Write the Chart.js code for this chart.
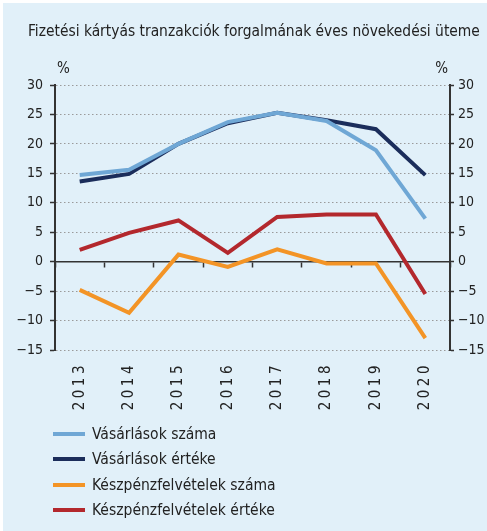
<!DOCTYPE html>
<html>
<head>
<meta charset="utf-8">
<script src="https://cdn.jsdelivr.net/npm/chart.js@4/dist/chart.umd.min.js"></script>
<style>
  html, body { margin: 0; padding: 0; background: #ffffff; }
  #wrap { position: absolute; left: 3px; top: 3px; width: 484px; height: 528px; background: #e1f0f9; }
  #cv { position: absolute; left: 0; top: 0; }
  #title { position: absolute; left: 25px; top: 19px; line-height: 18px; white-space: nowrap; font-family: "Liberation Sans Narrow", "DejaVu Sans Condensed", sans-serif; font-size: 15.4px; color: #222; }
  #legend { position: absolute; left: 50px; top: 418px; font-family: "Liberation Sans Narrow", "DejaVu Sans Condensed", sans-serif; font-size: 15.5px; color: #222; }
  .item { height: 25.5px; display: flex; align-items: center; }
  .sw { width: 32px; height: 4px; margin-right: 7px; }
</style>
</head>
<body>
<div id="wrap">
  <canvas id="cv" width="484" height="528"></canvas>
  <div id="title"></div>
  <div id="legend"></div>
</div>
<script>
const years = ['2013', '2014', '2015', '2016', '2017', '2018', '2019', '2020'];
const vasarlasokSzama = [14.7, 15.6, 20.0, 23.7, 25.3, 23.9, 18.9, 7.3];
const vasarlasokErteke = [13.6, 14.9, 20.0, 23.5, 25.3, 24.0, 22.5, 14.7];
const keszpenzSzama = [-4.8, -8.7, 1.2, -0.9, 2.1, -0.3, -0.3, -13.0];
const keszpenzErteke = [2.0, 4.9, 7.0, 1.5, 7.6, 8.0, 8.0, -5.5];
const seriesNames = ['Vásárlások száma', 'Vásárlások értéke', 'Készpénzfelvételek száma', 'Készpénzfelvételek értéke'];
const seriesColors = ['#6fa7d5', '#1b2d5b', '#f39426', '#b3282d'];
const yMin = -15, yMax = 30, yStep = 5;
const titleText = 'Fizetési kártyás tranzakciók forgalmának éves növekedési üteme';
const unitText = '%';

const FONT = '"Liberation Sans Narrow", "DejaVu Sans Condensed", sans-serif';
const NUMFONT = '"DejaVu Sans Condensed", "Liberation Sans Narrow", sans-serif';
const TXT = '#222222';

document.getElementById('title').textContent = titleText;

const dataSets = [vasarlasokSzama, vasarlasokErteke, keszpenzSzama, keszpenzErteke].map((d, i) => ({
  label: seriesNames[i], data: d, borderColor: seriesColors[i], backgroundColor: seriesColors[i],
  borderWidth: 4, pointRadius: 0, tension: 0, fill: false
}));

const fmt = v => String(v).replace('-', '\u2212');

const unitPlugin = {
  id: 'unitLabels',
  beforeDraw(chart) {
    const s = chart.scales.x;
    if (s && !s._spaced) {
      const orig = s.drawLabels;
      s.drawLabels = function (area) {
        const c = this.ctx; c.save(); c.letterSpacing = '3.5px'; orig.call(this, area); c.restore();
      };
      s._spaced = true;
    }
  },
  afterDraw(chart) {
    const ctx = chart.ctx;
    const a = chart.chartArea;
    ctx.save();
    ctx.font = '15px ' + FONT;
    ctx.fillStyle = TXT;
    ctx.textBaseline = 'bottom';
    ctx.textAlign = 'left';
    ctx.fillText(unitText, a.left + 2, a.top - 8);
    ctx.textAlign = 'right';
    ctx.fillText(unitText, a.right - 2, a.top - 8);
    ctx.restore();
  }
};

new Chart(document.getElementById('cv'), {
  type: 'line',
  data: { labels: years, datasets: dataSets },
  plugins: [unitPlugin],
  options: {
    responsive: false,
    animation: false,
    layout: { padding: { left: 0, right: 0, top: 82, bottom: 119 } },
    plugins: {
      legend: { display: false },
      tooltip: { enabled: false },
      title: { display: false }
    },
    scales: {
      x: {
        type: 'category', position: 'bottom', offset: true,
        afterFit: s => { s.height = 62; },
        grid: { display: false },
        border: { display: false },
        ticks: { color: TXT, font: { family: NUMFONT, size: 15 }, minRotation: 90, maxRotation: 90, padding: 4 }
      },
      x0: {
        type: 'category', labels: years, position: { y: 0 }, offset: true,
        grid: { offset: true, drawOnChartArea: false, drawTicks: true, tickLength: 5, tickColor: '#333', tickWidth: 1.5 },
        border: { display: true, color: '#333', width: 1.5 },
        ticks: { display: false }
      },
      y: {
        position: 'left', min: yMin, max: yMax,
        afterFit: s => { s.width = 52; },
        ticks: { stepSize: yStep, color: TXT, font: { family: NUMFONT, size: 14 }, padding: 7, callback: v => fmt(v) },
        grid: { color: '#9a9a9a', lineWidth: 1, tickColor: '#333', tickLength: 5, tickWidth: 1.5 },
        border: { display: true, color: '#333', width: 2, dash: [1.5, 2.5] }
      },
      y2: {
        position: 'right', min: yMin, max: yMax,
        afterFit: s => { s.width = 37; },
        ticks: { stepSize: yStep, color: TXT, font: { family: NUMFONT, size: 14 }, padding: 4, callback: v => fmt(v) },
        grid: { drawOnChartArea: false, tickColor: '#333', tickLength: 4, tickWidth: 1.5 },
        border: { display: true, color: '#333', width: 2 }
      }
    }
  }
});

const lg = document.getElementById('legend');
seriesNames.forEach((n, i) => {
  const it = document.createElement('div'); it.className = 'item';
  const sw = document.createElement('div'); sw.className = 'sw'; sw.style.background = seriesColors[i];
  const tx = document.createElement('span'); tx.textContent = n;
  it.appendChild(sw); it.appendChild(tx); lg.appendChild(it);
});
</script>
</body>
</html>
